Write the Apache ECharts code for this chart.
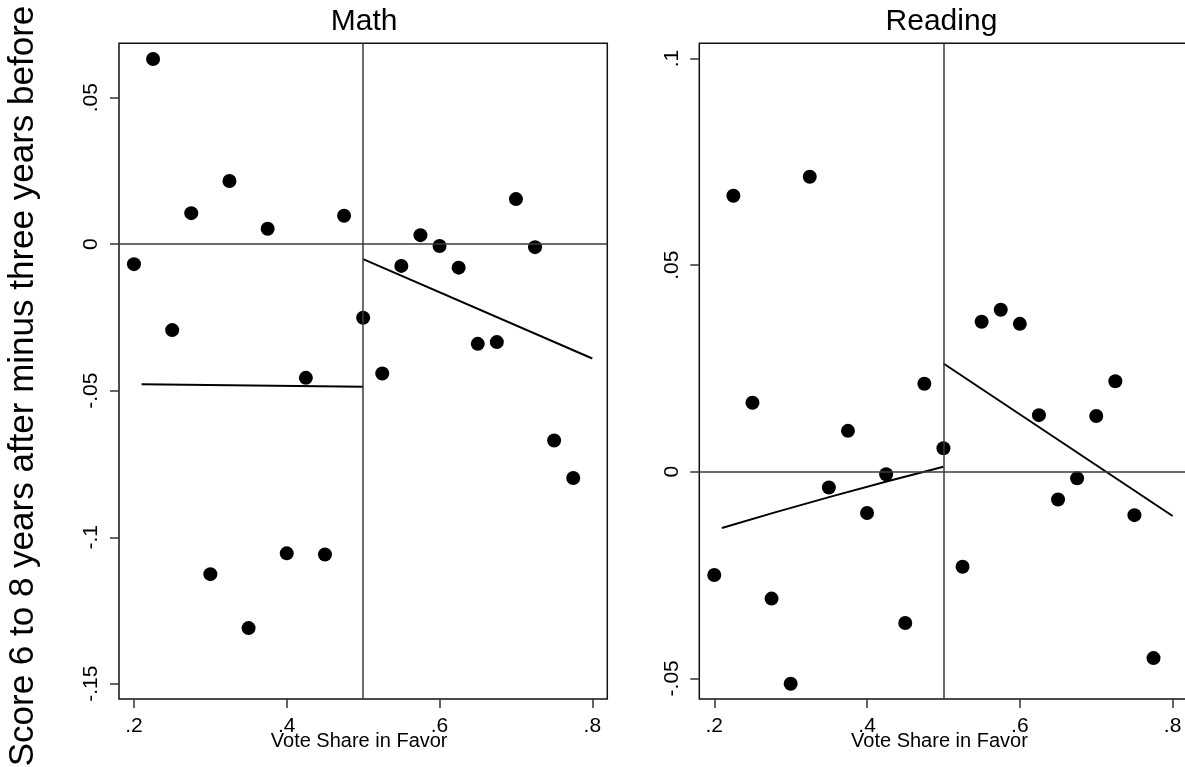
<!DOCTYPE html>
<html>
<head>
<meta charset="utf-8">
<script src="https://cdn.jsdelivr.net/npm/echarts@6/dist/echarts.min.js"></script>
<style>
html,body{margin:0;padding:0;background:#fff;}
#chart{width:1185px;height:767px;}
</style>
</head>
<body>
<div id="chart"></div>
<script>
// ---- data ----
const voteShare = [0.2,0.225,0.25,0.275,0.3,0.325,0.35,0.375,0.4,0.425,0.45,0.475,0.5,0.525,0.55,0.575,0.6,0.625,0.65,0.675,0.7,0.725,0.75,0.775];
const mathScore = [-0.0068,0.0632,-0.0293,0.0106,-0.1126,0.0216,-0.131,0.0053,-0.1055,-0.0456,-0.1059,0.0097,-0.0251,-0.0441,-0.0074,0.0031,-0.0006,-0.008,-0.034,-0.0334,0.0154,-0.001,-0.067,-0.0798];
const readingScore = [-0.025,0.0668,0.0167,-0.0307,-0.0513,0.0714,-0.0038,0.0099,-0.01,-0.0006,-0.0366,0.0213,0.0057,-0.023,0.0363,0.0392,0.0358,0.0137,-0.0067,-0.0016,0.0135,0.0219,-0.0105,-0.0451];
const mathFitLeftX = [0.21, 0.5];
const mathFitLeftY = [-0.0478, -0.0486];
const mathFitRightX = [0.5, 0.8];
const mathFitRightY = [-0.0051, -0.039];
const readingFitLeftX = [0.21, 0.355, 0.5];
const readingFitLeftY = [-0.0136, -0.0059, 0.0012];
const readingFitRightX = [0.5, 0.8];
const readingFitRightY = [0.0262, -0.0107];
const xTicks = [0.2, 0.4, 0.6, 0.8];
const mathYTicks = [-0.15, -0.1, -0.05, 0, 0.05];
const readingYTicks = [-0.05, 0, 0.05, 0.1];
const panelTitles = ['Math', 'Reading'];
const xAxisTitle = 'Vote Share in Favor';
const yAxisTitle = 'Score 6 to 8 years after minus three years before';
const cutoff = 0.5;

const FONT = '"Liberation Sans", Arial, Helvetica, sans-serif';
const zip = (xs, ys) => xs.map((x, i) => [x, ys[i]]);
const fmt = v => String(v).replace(/^(-?)0\./, '$1.');

const chart = echarts.init(document.getElementById('chart'), null, {renderer: 'canvas'});

const grids = [
  {left: 119, top: 43.3, width: 488.3, height: 655.7},
  {left: 699.3, top: 43.3, width: 488.3, height: 655.7}
];

function xAx(i) {
  return {
    type: 'value', gridIndex: i, min: 0.1804, max: 0.8196,
    splitLine: {show: false},
    axisLine: {show: false, onZero: false},
    axisTick: {show: true, length: 9, customValues: xTicks, lineStyle: {color: '#333', width: 1.5}},
    axisLabel: {show: true, customValues: xTicks, formatter: fmt, margin: 17, fontFamily: FONT, fontSize: 21, color: '#000'}
  };
}
function yAx(i, min, max, ticks) {
  return {
    type: 'value', gridIndex: i, min: min, max: max,
    splitLine: {show: false},
    axisLine: {show: false, onZero: false},
    axisTick: {show: true, length: 9, customValues: ticks, lineStyle: {color: '#333', width: 1.5}},
    axisLabel: {show: true, customValues: ticks, formatter: fmt, rotate: 90, margin: 17, fontFamily: FONT, fontSize: 21, color: '#000'}
  };
}

const refLines = {
  silent: true, symbol: 'none', label: {show: false},
  lineStyle: {color: '#3a3a3a', width: 1.5, type: 'solid'},
  data: [{yAxis: 0}, {xAxis: cutoff}]
};

function scatter(i, ys) {
  return {
    type: 'scatter', xAxisIndex: i, yAxisIndex: i,
    data: zip(voteShare, ys), symbol: 'circle', symbolSize: 14,
    itemStyle: {color: '#000', opacity: 1}, markLine: refLines, z: 3
  };
}
function fit(i, xs, ys) {
  return {
    type: 'line', xAxisIndex: i, yAxisIndex: i, data: zip(xs, ys),
    showSymbol: false, symbol: 'none', smooth: xs.length > 2 ? 0.5 : false,
    lineStyle: {color: '#000', width: 2}, z: 4
  };
}

const gridCenters = grids.map(g => g.left + g.width / 2);

chart.setOption({
  animation: false,
  backgroundColor: '#fff',
  grid: grids.map(g => Object.assign({show: true, borderColor: '#111', borderWidth: 1.5, backgroundColor: '#fff', containLabel: false, outerBoundsMode: 'none'}, g)),
  xAxis: [xAx(0), xAx(1)],
  yAxis: [yAx(0, -0.1552, 0.06857, mathYTicks), yAx(1, -0.0550, 0.1037, readingYTicks)],
  series: [
    scatter(0, mathScore),
    fit(0, mathFitLeftX, mathFitLeftY),
    fit(0, mathFitRightX, mathFitRightY),
    scatter(1, readingScore),
    fit(1, readingFitLeftX, readingFitLeftY),
    fit(1, readingFitRightX, readingFitRightY)
  ],
  graphic: [
    {type: 'text', x: gridCenters[0] + 1, y: 21.5, style: {text: panelTitles[0], font: '30px ' + FONT, fill: '#000', align: 'center', verticalAlign: 'middle'}},
    {type: 'text', x: gridCenters[1] - 2, y: 21.5, style: {text: panelTitles[1], font: '30px ' + FONT, fill: '#000', align: 'center', verticalAlign: 'middle'}},
    {type: 'text', x: gridCenters[0] - 4, y: 741, style: {text: xAxisTitle, font: '20px ' + FONT, fill: '#000', align: 'center', verticalAlign: 'middle'}},
    {type: 'text', x: gridCenters[1] - 4, y: 741, style: {text: xAxisTitle, font: '20px ' + FONT, fill: '#000', align: 'center', verticalAlign: 'middle'}},
    {type: 'text', x: 23, y: 386, rotation: Math.PI / 2, style: {text: yAxisTitle, font: '35px ' + FONT, fill: '#000', align: 'center', verticalAlign: 'middle'}}
  ]
});
</script>
</body>
</html>
